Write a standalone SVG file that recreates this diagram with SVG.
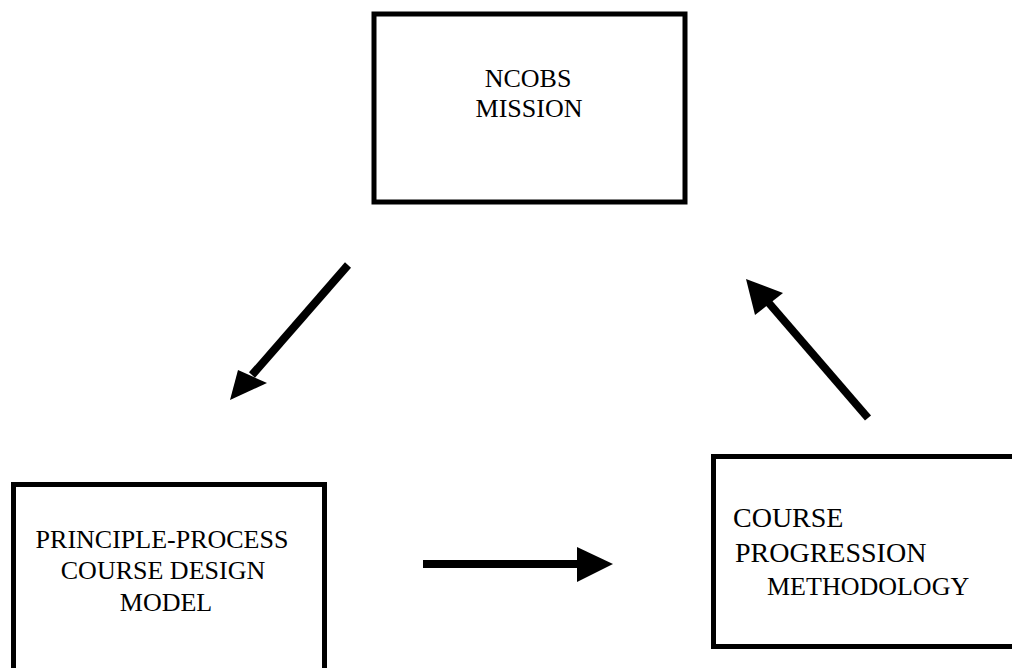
<svg xmlns="http://www.w3.org/2000/svg" width="1012" height="668" viewBox="0 0 1012 668">
<style>
.box{fill:#fff;stroke:#000;stroke-width:5}
.t{font-family:"Liberation Serif","Times New Roman",serif;fill:#000;font-size:26px}
.c{text-anchor:middle}
.big{font-size:28px}
.ln{stroke:#000;stroke-width:8;fill:none}
.hd{fill:#000;stroke:none}
</style>
<rect width="1012" height="668" fill="#fff"/>
<g id="node-mission">
<rect class="box" x="374" y="14" width="311" height="188"/>
<text class="t c" x="528" y="87">NCOBS</text>
<text class="t c" x="529" y="117">MISSION</text>
</g>
<g id="node-principle">
<rect class="box" x="13.5" y="484.5" width="311" height="200"/>
<text class="t c" x="162" y="548">PRINCIPLE-PROCESS</text>
<text class="t c" x="163" y="579">COURSE DESIGN</text>
<text class="t c" x="166" y="611">MODEL</text>
</g>
<g id="node-progression">
<rect class="box" x="713.5" y="456.5" width="320" height="190"/>
<text class="t big" x="733" y="527">COURSE</text>
<text class="t big" x="735" y="562">PROGRESSION</text>
<text class="t" x="767" y="595">METHODOLOGY</text>
</g>
<g id="connectors">
<line class="ln" x1="348" y1="265" x2="252" y2="375"/>
<polygon class="hd" points="230,400 238,370 267,383"/>
<line class="ln" x1="423" y1="564" x2="580" y2="564"/>
<polygon class="hd" points="613,564 577,547 577,582"/>
<line class="ln" x1="868" y1="418" x2="768" y2="302"/>
<polygon class="hd" points="746,279 783,293 755,315"/>
</g>
</svg>
